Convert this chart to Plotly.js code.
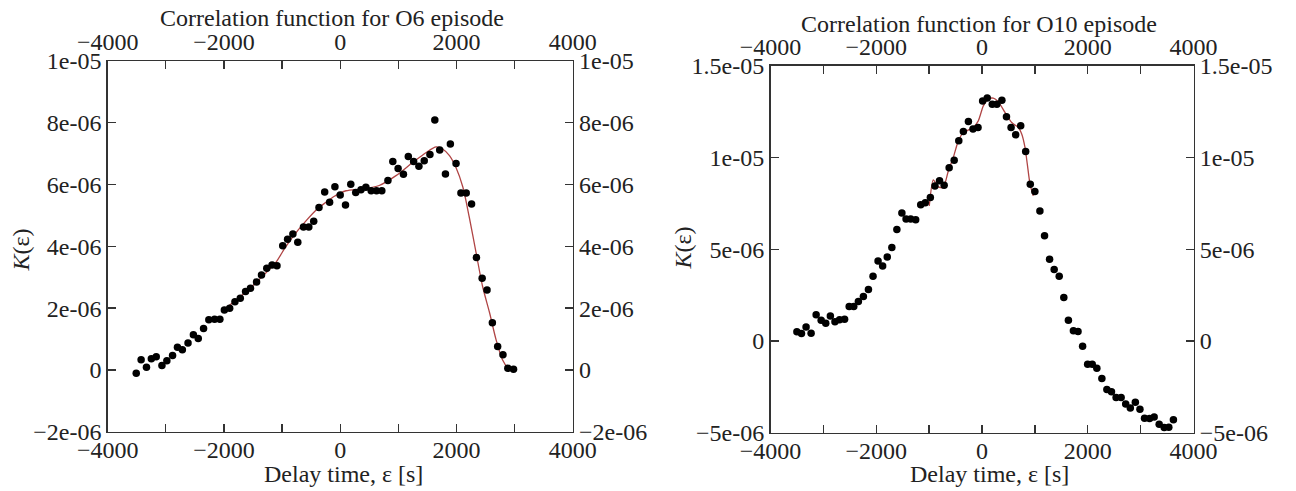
<!DOCTYPE html>
<html>
<head>
<meta charset="utf-8">
<script src="https://cdn.plot.ly/plotly-3.0.1.min.js"></script>
<style>html,body{margin:0;padding:0;background:#fff;}#chart{width:1296px;height:491px;}</style>
</head>
<body>
<div id="chart"></div>
<script>
// ---- Data (K values in units of 1e-6) ----
const o6Delay = [-3509,-3425,-3333,-3249,-3165,-3067,-2982,-2884,-2800,-2716,-2618,-2526,-2442,-2351,-2260,-2161,-2070,-1993,-1902,-1811,-1719,-1628,-1544,-1439,-1354,-1263,-1172,-1088,-989,-905,-814,-730,-632,-540,-456,-365,-267,-182,-91,0,91,182,267,358,442,533,625,716,821,905,996,1088,1172,1263,1354,1446,1544,1628,1712,1811,1895,1993,2077,2168,2260,2344,2442,2526,2618,2709,2800,2884,2982];
const o6K = [-0.11,0.33,0.09,0.36,0.43,0.14,0.30,0.47,0.73,0.65,0.87,1.14,1.02,1.34,1.62,1.64,1.64,1.94,2.00,2.21,2.32,2.54,2.64,2.85,3.07,3.29,3.40,3.37,4.02,4.23,4.40,4.13,4.63,4.63,4.81,5.26,5.76,5.43,5.93,5.66,5.34,6.01,5.74,5.83,5.91,5.80,5.80,5.80,6.13,6.75,6.52,6.33,6.91,6.75,6.59,6.77,6.97,8.09,7.12,6.34,7.31,6.68,5.73,5.73,5.37,3.64,2.97,2.59,1.53,0.76,0.49,0.05,0.02];
const o6FitDelay = [-2000,-1650,-1300,-1100,-950,-800,-600,-400,-250,-100,100,390,670,960,1250,1480,1650,1760,1880,1990,2110,2220,2340,2450,2570,2680,2790,2880,2950];
const o6FitK = [1.95,2.48,3.10,3.50,3.95,4.35,4.80,5.20,5.42,5.62,5.80,5.86,5.97,6.29,6.72,7.04,7.22,7.15,6.94,6.56,5.92,4.95,3.77,2.70,1.85,0.99,0.34,0.08,0.0];

const o10Delay = [-3501,-3414,-3327,-3232,-3137,-3042,-2955,-2868,-2781,-2694,-2599,-2512,-2425,-2338,-2243,-2148,-2061,-1966,-1879,-1792,-1705,-1610,-1515,-1436,-1349,-1254,-1159,-1072,-977,-890,-803,-716,-621,-526,-439,-352,-257,-170,-75,12,99,194,281,376,463,550,637,732,826,913,1000,1095,1183,1278,1365,1460,1547,1634,1729,1816,1903,1998,2085,2172,2267,2362,2449,2536,2631,2718,2805,2900,2987,3074,3169,3256,3351,3446,3533,3620];
const o10K = [0.49,0.40,0.76,0.42,1.42,1.13,0.96,1.35,1.04,1.15,1.18,1.87,1.87,2.15,2.42,2.80,3.53,4.35,4.09,4.58,5.09,6.07,6.98,6.65,6.65,6.60,7.42,7.53,7.82,8.45,8.73,8.49,9.45,9.85,10.91,11.42,11.96,11.56,11.64,13.09,13.25,12.91,12.91,13.13,12.22,11.64,11.24,11.73,10.33,8.55,8.15,7.09,5.73,4.45,3.89,3.53,2.36,1.13,0.55,0.51,-0.29,-1.27,-1.27,-1.49,-2.05,-2.65,-2.78,-3.09,-3.09,-3.45,-3.67,-3.35,-3.73,-4.22,-4.24,-4.16,-4.55,-4.73,-4.71,-4.31];
const o10FitDelay = [-997,-921,-826,-732,-637,-543,-448,-354,-165,-70,25,119,214,308,435,562,687,751,813,857,908,970];
const o10FitK = [7.36,8.78,8.40,8.36,9.27,10.0,10.91,11.36,11.64,12.0,12.82,13.19,13.24,13.05,12.46,11.91,11.64,11.28,10.55,9.64,8.55,7.91];

// ---- Tick labels ----
const xTickVals = [-4000,-2000,0,2000,4000];
const xTickText = ["\u22124000","\u22122000","0","2000","4000"];
const o6YTickVals = [-2,0,2,4,6,8,10];
const o6YTickText = ["\u22122e-06","0","2e-06","4e-06","6e-06","8e-06","1e-05"];
const o10YTickVals = [-5,0,5,10,15];
const o10YTickText = ["\u22125e-06","0","5e-06","1e-05","1.5e-05"];

const titles = {
  left: "Correlation function for O6 episode",
  right: "Correlation function for O10 episode",
  x: "Delay time, \u03b5 [s]",
  y: "<i>K</i>(\u03b5)"
};

// ---- Styling ----
const FONT = "Liberation Serif, Times New Roman, serif";
const TXT = "#222";
const LINE = "#333";
const tickFont = {family: FONT, size: 24, color: TXT};

function xAxis(domain, side, anchor, overlaying) {
  const a = {
    domain: domain, range: [-4000, 4000], side: side, anchor: anchor,
    tickmode: "array", tickvals: xTickVals, ticktext: xTickText,
    ticks: "inside", ticklen: 8, tickwidth: 1.3, tickcolor: LINE,
    minor: {dtick: 1000, tick0: 0, ticks: "inside", ticklen: 8, tickwidth: 1.3, tickcolor: LINE},
    showline: true, linecolor: LINE, linewidth: 1.5,
    showgrid: false, zeroline: false, tickfont: tickFont, fixedrange: true
  };
  if (side === "bottom") a.ticklabelstandoff = -4;
  if (overlaying) a.overlaying = overlaying;
  return a;
}
function yAxis(domain, side, anchor, range, vals, text, overlaying) {
  const a = {
    domain: domain, range: range, side: side, anchor: anchor,
    tickmode: "array", tickvals: vals, ticktext: text,
    ticks: "inside", ticklen: 8, tickwidth: 1.3, tickcolor: LINE,
    showline: true, linecolor: LINE, linewidth: 1.5,
    showgrid: false, zeroline: false, tickfont: tickFont, fixedrange: true
  };
  if (overlaying) a.overlaying = overlaying;
  return a;
}

const W = 1296, H = 491;
const leftX = [107.7 / W, 572.7 / W];
const leftY = [1 - 431.7 / H, 1 - 61 / H];
const rightX = [770.5 / W, 1193.5 / W];
const rightY = [1 - 432.5 / H, 1 - 65.9 / H];

const markerStyle = {color: "#000", size: 7.5};
const fitStyle = {color: "#b04545", width: 1.3, shape: "spline", smoothing: 0.8};

const traces = [
  {x: o6FitDelay, y: o6FitK, xaxis: "x", yaxis: "y", mode: "lines", line: fitStyle, hoverinfo: "skip"},
  {x: o6Delay, y: o6K, xaxis: "x2", yaxis: "y2", mode: "markers", marker: markerStyle},
  {x: o10FitDelay, y: o10FitK, xaxis: "x3", yaxis: "y3", mode: "lines", line: Object.assign({}, fitStyle, {smoothing: 0.6}), hoverinfo: "skip"},
  {x: o10Delay, y: o10K, xaxis: "x4", yaxis: "y4", mode: "markers", marker: markerStyle}
];

function ann(text, x, y, size, angle) {
  return {text: text, x: x, y: y, xref: "paper", yref: "paper", xanchor: "center", yanchor: "middle",
    showarrow: false, textangle: angle || 0, font: {family: FONT, size: size, color: TXT}};
}

const layout = {
  width: W, height: H,
  margin: {l: 0, r: 0, t: 0, b: 0},
  paper_bgcolor: "#fff", plot_bgcolor: "rgba(0,0,0,0)",
  showlegend: false,
  xaxis: xAxis(leftX, "bottom", "y"),
  yaxis: yAxis(leftY, "left", "x", [-2, 10], o6YTickVals, o6YTickText),
  xaxis2: xAxis(leftX, "top", "y", "x"),
  yaxis2: yAxis(leftY, "right", "x", [-2, 10], o6YTickVals, o6YTickText, "y"),
  xaxis3: xAxis(rightX, "bottom", "y3"),
  yaxis3: yAxis(rightY, "left", "x3", [-5, 15], o10YTickVals, o10YTickText),
  xaxis4: xAxis(rightX, "top", "y3", "x3"),
  yaxis4: yAxis(rightY, "right", "x3", [-5, 15], o10YTickVals, o10YTickText, "y3"),
  annotations: [
    ann(titles.left, 331.6 / W, 1 - 18 / H, 24),
    ann(titles.right, 979 / W, 1 - 23.5 / H, 24),
    ann(titles.x, 343 / W, 1 - 474 / H, 24),
    ann(titles.x, 989.5 / W, 1 - 474 / H, 24),
    ann(titles.y, 20.5 / W, 1 - 250 / H, 24, -90),
    ann(titles.y, 682.5 / W, 1 - 248 / H, 24, -90)
  ]
};

Plotly.newPlot("chart", traces, layout, {staticPlot: true, displayModeBar: false});
</script>
</body>
</html>
